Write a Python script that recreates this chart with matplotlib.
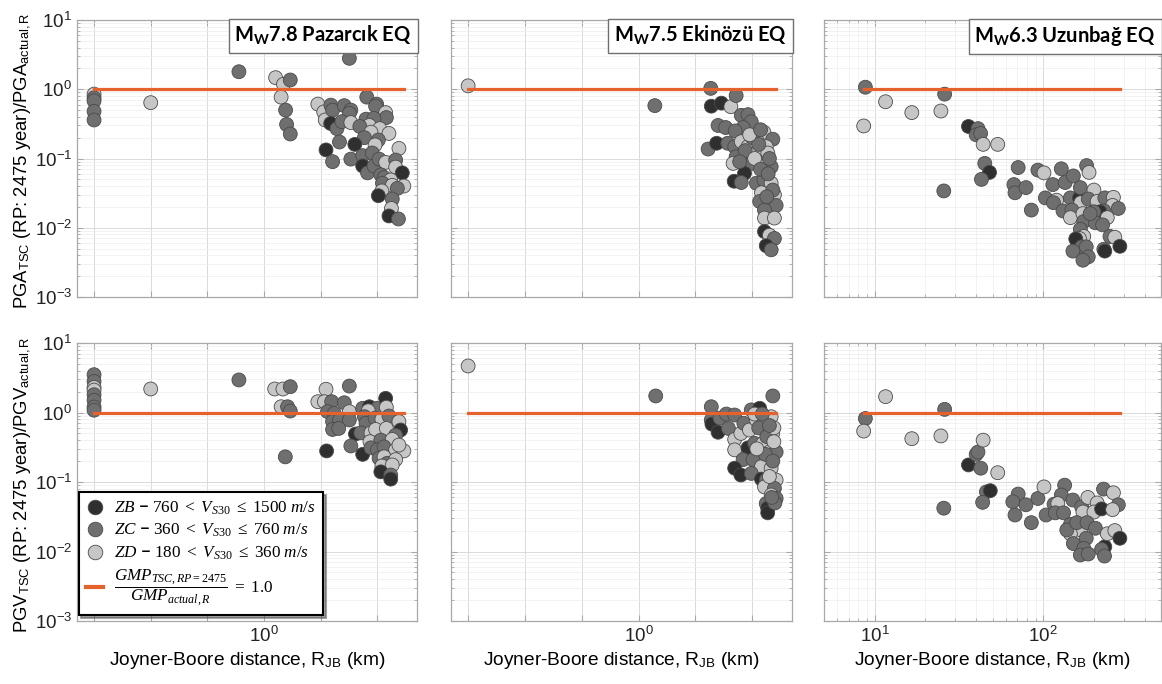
import matplotlib
matplotlib.use("Agg")
import matplotlib.pyplot as plt
from matplotlib.lines import Line2D
from matplotlib.ticker import FixedLocator, NullLocator, LogLocator

plt.rcParams['font.family'] = ['Liberation Sans', 'DejaVu Sans']
plt.rcParams['mathtext.fontset'] = 'custom'
plt.rcParams['mathtext.rm'] = 'Liberation Serif'
plt.rcParams['mathtext.it'] = 'Liberation Serif:italic'
plt.rcParams['mathtext.bf'] = 'Lato:bold'
plt.rcParams['mathtext.sf'] = 'Liberation Sans'

# ---- data: R_JB (km), ratio GMP_TSC / GMP_actual, site class (B/C/D) ----
# Pazarcik, PGA
paz_pga_r = [0.001, 0.001, 0.001, 0.001, 0.001, 0.01, 0.36, 1.6, 2.2, 2.9, 2.0, 2.4, 2.5, 2.9,
             32, 65, 8.9, 11.3, 12, 15.1, 16.2, 26, 34, 32, 15, 19.3, 23.6, 34, 97, 93, 140, 144,
             63, 87, 72, 49, 110, 160, 77, 59, 104, 91, 21.4, 40, 12.4, 16.2, 34, 55, 81, 240,
             55, 67, 87, 107, 140, 210, 210, 275, 115, 131, 172, 123, 183, 293, 225, 120, 104,
             183, 177, 160, 235]
paz_pga_ratio = [0.85, 0.75, 0.68, 0.48, 0.36, 0.64, 1.79, 1.47, 1.18, 1.36, 0.77, 0.50, 0.31, 0.226,
                 2.8, 0.77, 0.61, 0.47, 0.36, 0.59, 0.50, 0.58, 0.50, 0.45, 0.32, 0.27, 0.34, 0.33,
                 0.61, 0.57, 0.46, 0.39, 0.37, 0.38, 0.30, 0.29, 0.27, 0.23, 0.24, 0.20, 0.185, 0.157,
                 0.173, 0.16, 0.133, 0.09, 0.098, 0.11, 0.12, 0.14, 0.078, 0.062, 0.078, 0.098, 0.088,
                 0.095, 0.075, 0.062, 0.058, 0.053, 0.049, 0.044, 0.041, 0.040, 0.037, 0.034, 0.029,
                 0.026, 0.019, 0.0148, 0.0134]
paz_pga_site = list("DCCCCDCDDCDCCCCCDDDCCCCCBCCDCCDCCCDCDDDCCDCBBCCCCDBCCCDCDBCCDCDDCDBCDBC")

# Ekinozu, PGA
eki_pga_r = [0.001, 1.93, 18.6, 19, 28.6, 42, 52, 16.7, 23.6, 25, 34, 64, 84, 96, 69, 50, 160, 230,
             176, 37, 49, 64, 84, 118, 118, 52, 46, 78, 96, 160, 188, 215, 73, 48, 64, 118, 164,
             160, 215, 145, 245, 135, 215, 263, 164, 164, 245, 164, 200, 245, 176, 215,
             100, 130, 75, 110, 140, 190, 90, 140, 200, 230, 180, 60]
eki_pga_ratio = [1.12, 0.58, 1.03, 0.57, 0.63, 0.56, 0.81, 0.137, 0.166, 0.30, 0.28, 0.42, 0.43, 0.34,
                 0.28, 0.25, 0.24, 0.19, 0.148, 0.166, 0.148, 0.175, 0.148, 0.19, 0.12, 0.106, 0.085,
                 0.106, 0.085, 0.085, 0.12, 0.076, 0.061, 0.047, 0.045, 0.044, 0.061, 0.049, 0.044,
                 0.032, 0.030, 0.024, 0.021, 0.021, 0.018, 0.0138, 0.0138, 0.0088, 0.0078, 0.0070,
                 0.0055, 0.0048,
                 0.20, 0.16, 0.13, 0.10, 0.07, 0.06, 0.22, 0.26, 0.10, 0.035, 0.028, 0.09]
eki_pga_site = list("DCCBBDCCBCCCCCCCDCDCCDDDDCDCCDDCBBCCDCDDDCDCCDDBDCBC" + "CCCDCCDCCCCC")

# Uzunbag, PGA
uzu_pga_r = [8.8, 8.6, 11.6, 16.6, 24.7, 26, 25.7, 36, 41, 40, 42.5, 44, 53.7, 45, 48, 43, 71, 67,
             68, 79, 85, 93, 101, 128, 181, 187, 114, 135, 151, 103, 120, 115, 145, 164, 167, 166,
             200, 185, 209, 232, 261, 258, 279, 229, 217, 200, 131, 148, 145, 172, 174, 204, 240,
             225, 249, 266, 285, 229, 232, 166, 174, 164, 156, 169, 180, 150, 185, 172, 190]
uzu_pga_ratio = [1.07, 0.295, 0.66, 0.46, 0.485, 0.85, 0.034, 0.29, 0.27, 0.22, 0.23, 0.16, 0.16,
                 0.085, 0.063, 0.050, 0.074, 0.042, 0.032, 0.038, 0.018, 0.068, 0.062, 0.071, 0.079,
                 0.063, 0.042, 0.045, 0.056, 0.027, 0.025, 0.023, 0.027, 0.027, 0.023, 0.038, 0.035,
                 0.026, 0.024, 0.027, 0.0275, 0.021, 0.019, 0.0175, 0.017, 0.017, 0.0175, 0.018,
                 0.014, 0.016, 0.0123, 0.0118, 0.014, 0.011, 0.0075, 0.0073, 0.0054, 0.0049, 0.0046,
                 0.0095, 0.0075, 0.0070, 0.0069, 0.0053, 0.0053, 0.0046, 0.0038, 0.0034, 0.016]
uzu_pga_site = list("CDDDDCCBCCCDDCBCCCCCCCDCCDCCCCDCCBDCDCDCDDCCBCCCDDCCDCCDBCBCDDBCCCCCC")

# Pazarcik, PGV
paz_pgv_r = [0.001, 0.001, 0.001, 0.001, 0.001, 0.001, 0.001, 0.001, 0.01, 0.36, 1.54, 2.15, 2.9,
             2.0, 2.6, 2.9, 2.37, 12.4, 32, 8.9, 11.6, 15.6, 26, 13.2, 17.3, 32, 16.2, 21.4, 32,
             16.2, 20.8, 55, 72, 100, 140, 144, 69, 59, 63, 91, 120, 160, 240, 257, 41, 51, 77,
             93, 144, 210, 74, 115, 183, 12.7, 34, 55, 77, 100, 131, 210, 293, 240, 107, 131, 150,
             210, 120, 183, 115, 172, 172]
paz_pgv_ratio = [3.5, 2.8, 2.3, 2.1, 1.8, 1.5, 1.2, 1.08, 2.18, 2.94, 2.18, 2.18, 2.35, 1.21, 1.21,
                 1.05, 0.23, 2.16, 2.4, 1.43, 1.43, 1.43, 1.38, 1.03, 0.97, 1.03, 0.74, 0.78, 0.78,
                 0.57, 0.59, 1.15, 1.21, 1.15, 1.6, 1.19, 1.06, 0.87, 0.70, 0.83, 0.80, 0.89, 0.74,
                 0.56, 0.49, 0.51, 0.51, 0.57, 0.59, 0.47, 0.38, 0.40, 0.41, 0.28, 0.33, 0.25, 0.31,
                 0.29, 0.32, 0.29, 0.28, 0.34, 0.22, 0.23, 0.186, 0.21, 0.17, 0.176, 0.14, 0.126, 0.11]
paz_pgv_site = list("CCDDCCCCDCDDCDCCCDCDDCCCCDCCCCCCBCBDDCCCDCDBBCDDDCDCDBCBCCCDDDCDCDDDBCB")

# Ekinozu, PGV
eki_pgv_r = [0.001, 2.0, 230, 19, 19, 19.5, 25, 27, 35, 38, 49, 49, 49, 63, 71, 89, 96, 135, 118,
             164, 215, 229, 84, 110, 155, 200, 263, 69, 103, 145, 215, 49, 63, 96, 145, 176, 263,
             164, 245, 215, 176, 187, 187, 263,
             130, 180, 240, 110, 150, 200, 240, 170, 230, 120, 200, 250, 220]
eki_pgv_ratio = [4.67, 1.73, 1.73, 1.21, 0.78, 0.68, 0.52, 0.83, 0.95, 0.59, 0.92, 0.41, 0.29, 0.50,
                 0.70, 0.56, 1.09, 1.15, 0.78, 0.70, 0.87, 0.50, 0.31, 0.36, 0.36, 0.27, 0.27, 0.21,
                 0.21, 0.166, 0.158, 0.158, 0.126, 0.133, 0.11, 0.107, 0.107, 0.085, 0.081, 0.065,
                 0.049, 0.042, 0.036, 0.058,
                 0.60, 0.45, 0.60, 0.95, 0.95, 0.65, 0.38, 0.25, 0.20, 0.30, 0.12, 0.05, 0.06]
eki_pgv_site = list("DCCCCBBCCCCDDDCDCBDDDDBCDDCCCDDBBCBCDDCDCBBC" + "CCDDCCDCCDDCC")

# Uzunbag, PGV
uzu_pgv_r = [8.8, 8.6, 11.6, 16.6, 24.7, 26, 25.7, 36, 40, 41, 42.6, 44, 53.7, 46, 48.5, 43.7, 71,
             66, 68, 79, 85, 93, 101, 134, 128, 104, 116, 122, 118, 132, 150, 169, 172, 184, 209,
             200, 222, 228, 261, 279, 258, 145, 167, 145, 138, 158, 182, 204, 180, 151, 174, 166,
             185, 232, 222, 231, 240, 266, 285]
uzu_pgv_ratio = [0.82, 0.54, 1.69, 0.42, 0.46, 1.11, 0.042, 0.176, 0.25, 0.27, 0.158, 0.40, 0.136,
                 0.072, 0.075, 0.051, 0.067, 0.052, 0.0335, 0.047, 0.026, 0.058, 0.085, 0.09, 0.065,
                 0.0335, 0.048, 0.049, 0.036, 0.036, 0.055, 0.044, 0.037, 0.060, 0.050, 0.037, 0.041,
                 0.079, 0.070, 0.047, 0.040, 0.0245, 0.0204, 0.018, 0.0204, 0.026, 0.026, 0.0216,
                 0.0155, 0.013, 0.0111, 0.0089, 0.0092, 0.0117, 0.0107, 0.0086, 0.018, 0.020, 0.0155]
uzu_pgv_site = list("CDDDDCCBCCCDDCBCCCCCCCDCCCCDCCCCDDDDBCDCDCDDCCCCCCCCCBCCDDB")

site_colors = {'B': '#2f2f2f', 'C': '#6f6f6f', 'D': '#c6c6c6'}
site_labels = {
    'B': r'$ZB\ \mathbf{-}\ 760\ <\ V_{S30}\ \leq\ 1500\ m/s$',
    'C': r'$ZC\ \mathbf{-}\ 360\ <\ V_{S30}\ \leq\ 760\ m/s$',
    'D': r'$ZD\ \mathbf{-}\ 180\ <\ V_{S30}\ \leq\ 360\ m/s$',
}
line_color = '#e6622d'
titles = [r'$\mathbf{M_W}$7.8 Pazarcık EQ', r'$\mathbf{M_W}$7.5 Ekinözü EQ', r'$\mathbf{M_W}$6.3 Uzunbağ EQ']

panels = [
    [(paz_pga_r, paz_pga_ratio, paz_pga_site), (eki_pga_r, eki_pga_ratio, eki_pga_site),
     (uzu_pga_r, uzu_pga_ratio, uzu_pga_site)],
    [(paz_pgv_r, paz_pgv_ratio, paz_pgv_site), (eki_pgv_r, eki_pgv_ratio, eki_pgv_site),
     (uzu_pgv_r, uzu_pgv_ratio, uzu_pgv_site)],
]
ylabels = [r'PGA$_{\mathsf{TSC}}$ (RP: 2475 year)/PGA$_{\mathsf{actual,R}}$',
           r'PGV$_{\mathsf{TSC}}$ (RP: 2475 year)/PGV$_{\mathsf{actual,R}}$']

fig = plt.figure(figsize=(11.62, 6.84), dpi=100)
W, H = 1162.0, 684.0
col_px = [(77, 340), (451, 341), (824, 337)]
row_px = [(20, 297), (343, 621)]

for i in range(2):
    for j in range(3):
        x0, w = col_px[j]
        y_top, y_bot = row_px[i]
        ax = fig.add_axes([x0 / W, 1 - y_bot / H, w / W, (y_bot - y_top) / H])
        r, ratio, site = panels[i][j]
        ax.set_xscale('log')
        ax.set_yscale('log')
        ax.set_ylim(1e-3, 1e1)
        if j < 2:
            ax.set_xlim(5e-4, 500)
            ax.xaxis.set_major_locator(FixedLocator([1e-3, 1e-2, 1e-1, 1, 10, 100]))
            ax.set_xticklabels(['', '', '', r'$\mathdefault{10^{0}}$', '', ''])
            ax.xaxis.set_minor_locator(NullLocator())
        else:
            ax.set_xlim(5, 500)
            ax.xaxis.set_major_locator(FixedLocator([10, 100]))
            ax.set_xticklabels([r'$\mathdefault{10^{1}}$', r'$\mathdefault{10^{2}}$'])
            ax.xaxis.set_minor_locator(LogLocator(base=10, subs=range(2, 10), numticks=20))
        ax.yaxis.set_major_locator(FixedLocator([1e-3, 1e-2, 1e-1, 1, 10]))
        ax.yaxis.set_minor_locator(LogLocator(base=10, subs=range(2, 10), numticks=20))

        ax.grid(True, which='major', color='#dadada', lw=0.7)
        ax.grid(True, which='minor', color='#ededed', lw=0.5)
        ax.set_axisbelow(True)
        for s in ax.spines.values():
            s.set_color('#a8a8a8')
            s.set_linewidth(0.9)
        ax.tick_params(which='both', direction='in', top=True, right=True, color='#a8a8a8',
                       labelsize=13.5, labelcolor='#222222')
        ax.tick_params(which='major', length=4)
        ax.tick_params(which='minor', length=2)
        if j > 0:
            ax.tick_params(labelleft=False)
        if i == 0:
            ax.tick_params(labelbottom=False)

        cols = [site_colors[s] for s in site]
        ax.scatter(r, ratio, s=100, c=cols, edgecolors='#4a4a4a', linewidths=0.6, zorder=3)
        ax.plot([min(r), max(r)], [1.0, 1.0], color=line_color, lw=2.3, zorder=4)

        if j == 0:
            ax.set_ylabel(ylabels[i], fontsize=13.3)
            ax.yaxis.set_label_coords(-0.13, 0.49)
        if i == 1:
            ax.set_xlabel(r'Joyner-Boore distance, R$_{\mathsf{JB}}$ (km)', fontsize=13.8, labelpad=3)
        if i == 0:
            ax.text(0.985, 0.985, titles[j], transform=ax.transAxes, ha='right', va='top',
                    fontsize=14.5, fontweight='bold', family='Lato', zorder=6,
                    bbox=dict(boxstyle='square,pad=0.28', fc='white', ec='#707070', lw=1.0))
        if i == 1 and j == 0:
            handles = [Line2D([], [], ls='none', marker='o', markersize=10.5,
                              markerfacecolor=site_colors[k], markeredgecolor='#4a4a4a',
                              markeredgewidth=0.6) for k in 'BCD']
            handles.append(Line2D([], [], color=line_color, lw=3))
            labels = [site_labels[k] for k in 'BCD']
            labels.append(r'$\dfrac{GMP_{TSC,RP=2475}}{GMP_{actual,R}}\ =\ 1.0$')
            leg = ax.legend(handles, labels, loc='lower left', bbox_to_anchor=(0.005, 0.02),
                            borderaxespad=0, fontsize=12.3, frameon=True, fancybox=False,
                            shadow=True, handlelength=1.0, handletextpad=0.6,
                            labelspacing=0.3, borderpad=0.45)
            leg.get_frame().set_edgecolor('black')
            leg.get_frame().set_linewidth(1.5)
            leg.set_zorder(10)

fig.savefig('out.png', dpi=100)
